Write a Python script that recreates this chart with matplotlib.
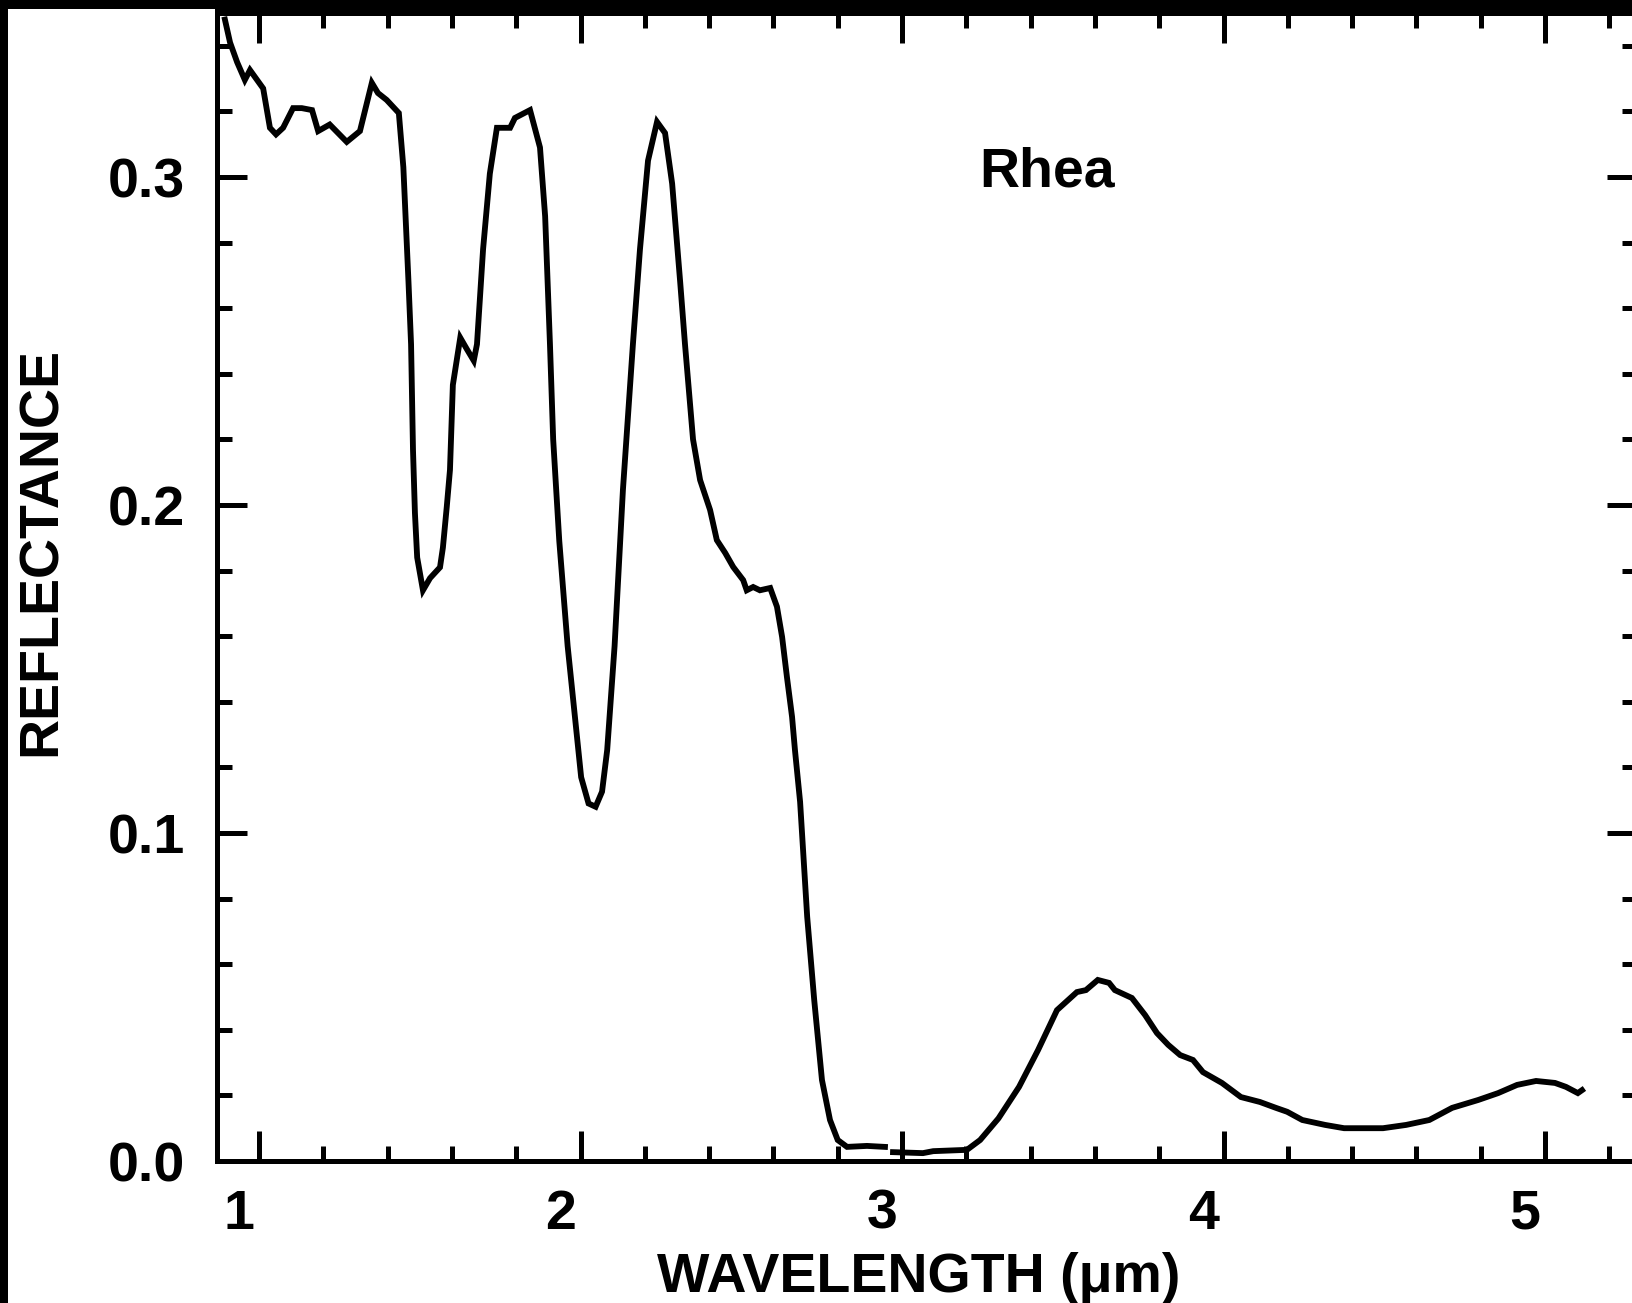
import numpy as np
import matplotlib
matplotlib.use('Agg')
import matplotlib.pyplot as plt
from matplotlib.patches import Rectangle
from matplotlib.transforms import ScaledTranslation

plt.rcParams['font.family'] = ['Liberation Sans', 'DejaVu Sans']
plt.rcParams['font.weight'] = 'bold'

# Rhea reflectance spectrum (NaN = gap in the data)
wavelength = [0.894, 0.91, 0.932, 0.956, 0.972, 0.994, 1.013, 1.034, 1.053, 1.075,
              1.106, 1.133, 1.165, 1.184, 1.22, 1.273, 1.314, 1.351, 1.37, 1.397,
              1.435, 1.449, 1.465, 1.473, 1.479, 1.485, 1.492, 1.51, 1.532, 1.563,
              1.572, 1.584, 1.594, 1.603, 1.626, 1.646, 1.668, 1.678, 1.697, 1.718,
              1.74, 1.781, 1.796, 1.843, 1.874, 1.89, 1.905, 1.915, 1.934, 1.96,
              1.983, 2.002, 2.025, 2.047, 2.067, 2.083, 2.106, 2.132, 2.163, 2.185,
              2.21, 2.238, 2.263, 2.285, 2.31, 2.325, 2.35, 2.372, 2.403, 2.424,
              2.45, 2.475, 2.506, 2.517, 2.537, 2.558, 2.59, 2.611, 2.627, 2.642,
              2.658, 2.667, 2.683, 2.705, 2.727, 2.751, 2.776, 2.80, 2.829, 2.891,
              2.947, np.nan, 2.972, 3.065, 3.097, 3.202, 3.243, 3.30, 3.364, 3.423,
              3.482, 3.544, 3.572, 3.609, 3.644, 3.662, 3.715, 3.756, 3.793, 3.828,
              3.865, 3.905, 3.936, 3.995, 4.054, 4.113, 4.163, 4.198, 4.245, 4.316,
              4.375, 4.496, 4.568, 4.64, 4.711, 4.792, 4.854, 4.913, 4.972, 5.031,
              5.065, 5.102, 5.115]
reflectance = [0.348, 0.341, 0.335, 0.3296, 0.3326, 0.3296, 0.327, 0.315, 0.313, 0.315,
               0.321, 0.321, 0.3204, 0.314, 0.316, 0.3107, 0.314, 0.3287, 0.3256, 0.3235,
               0.3195, 0.303, 0.268, 0.249, 0.2168, 0.1976, 0.184, 0.174, 0.1777, 0.181,
               0.187, 0.1994, 0.2107, 0.2366, 0.251, 0.2476, 0.244, 0.249, 0.278, 0.301,
               0.315, 0.315, 0.318, 0.3204, 0.309, 0.288, 0.249, 0.22, 0.189, 0.157,
               0.135, 0.117, 0.109, 0.108, 0.1126, 0.1253, 0.157, 0.2047, 0.249, 0.278,
               0.305, 0.3168, 0.3134, 0.298, 0.268, 0.249, 0.22, 0.2076, 0.1985, 0.1893,
               0.1854, 0.1811, 0.1771, 0.174, 0.175, 0.174, 0.1747, 0.169, 0.1598, 0.1476,
               0.1354, 0.1253, 0.1095, 0.0745, 0.049, 0.0247, 0.0125, 0.0064, 0.0043, 0.0046,
               0.0043, np.nan, 0.0027, 0.0024, 0.003, 0.0034, 0.0064, 0.013, 0.0226, 0.0338,
               0.046, 0.0515, 0.0521, 0.0552, 0.0543, 0.0521, 0.0497, 0.0445, 0.039, 0.0354,
               0.0323, 0.0308, 0.0271, 0.0238, 0.0195, 0.018, 0.0162, 0.015, 0.0125, 0.011,
               0.010, 0.010, 0.011, 0.0125, 0.0162, 0.0186, 0.0207, 0.0232, 0.0244, 0.0238,
               0.0226, 0.0207, 0.0216]

W, H = 1633, 1303
fig = plt.figure(figsize=(W / 100, H / 100), dpi=100)
ax = fig.add_axes([217 / W, 142 / H, (1637 - 217) / W, (1290 - 142) / H])

ax.plot(wavelength, reflectance, color='black', lw=4.2, solid_joinstyle='miter')
ax.set_xlim(0.8694, 5.286)
ax.set_ylim(0, 0.35)

ax.set_xticks([1, 2, 3, 4, 5])
ax.set_xticks(np.arange(1.2, 5.3, 0.2), minor=True)
ax.set_yticks([0.0, 0.1, 0.2, 0.3])
ax.set_yticks(np.arange(0.02, 0.35, 0.02), minor=True)
ax.set_yticklabels(['0.0', '0.1', '0.2', '0.3'])
ax.tick_params(which='both', direction='in', top=True, right=True, width=3.6,
               labelsize=40, color='black')
ax.tick_params(which='major', length=21.5)
ax.tick_params(which='minor', length=10.8)
ax.tick_params(axis='y', pad=23)
ax.tick_params(axis='x', pad=20)
for s in ax.spines.values():
    s.set_linewidth(3.6)

# IDL-style labels sit a bit left of their ticks
shift = ScaledTranslation(-0.2, 0, fig.dpi_scale_trans)
for lab in ax.get_xticklabels():
    lab.set_transform(lab.get_transform() + shift)

ax.text(3.451, 0.3015, 'Rhea', fontsize=40, fontweight='bold', ha='center', va='center')

fig.text(42 / W, 1 - 552 / H, 'REFLECTANCE', rotation=90, fontsize=40,
         fontweight='bold', ha='center', va='center')
fig.text(919 / W, 11 / H, 'WAVELENGTH (μm)', fontsize=40, fontweight='bold',
         ha='center', va='baseline')

# black frame left over from the screen grab
fig.add_artist(Rectangle((0, 1 - 9 / H), 1, 9 / H, transform=fig.transFigure,
                         color='black', lw=0, zorder=10))
fig.add_artist(Rectangle((215 / W, 1 - 15 / H), 1, 15 / H, transform=fig.transFigure,
                         color='black', lw=0, zorder=10))
fig.add_artist(Rectangle((0, 0), 8 / W, 1, transform=fig.transFigure,
                         color='black', lw=0, zorder=10))

fig.savefig('out.png', dpi=100)
